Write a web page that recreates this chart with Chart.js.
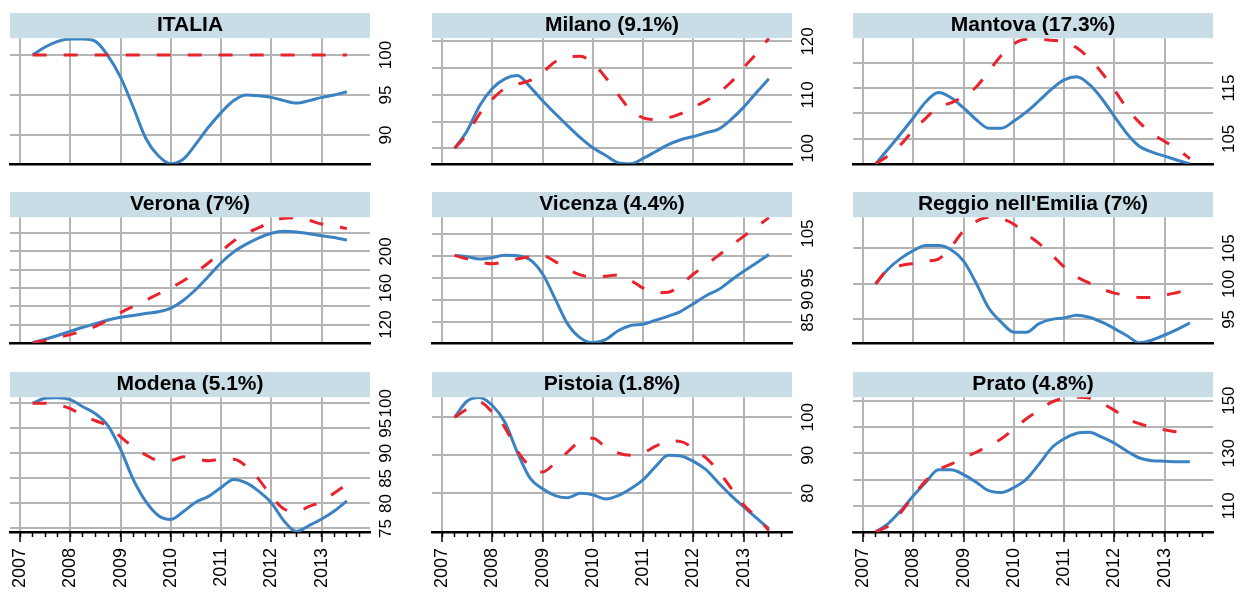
<!DOCTYPE html>
<html>
<head>
<meta charset="utf-8">
<script src="https://cdn.jsdelivr.net/npm/chart.js@4.4.1/dist/chart.umd.min.js"></script>
<style>
  html, body { margin: 0; padding: 0; background: #fff; overflow: hidden; }
  canvas { position: absolute; }
</style>
</head>
<body>
<canvas id="c0"></canvas><canvas id="c1"></canvas><canvas id="c2"></canvas>
<canvas id="c3"></canvas><canvas id="c4"></canvas><canvas id="c5"></canvas>
<canvas id="c6"></canvas><canvas id="c7"></canvas><canvas id="c8"></canvas>
<script>
// quarterly index, first quarter = 100
const quarters = [2007.25, 2007.5, 2007.75, 2008, 2008.25, 2008.5, 2008.75, 2009, 2009.25, 2009.5, 2009.75, 2010, 2010.25,
  2010.5, 2010.75, 2011, 2011.25, 2011.5, 2011.75, 2012, 2012.25, 2012.5, 2012.75, 2013, 2013.25, 2013.5];
const years = [2007, 2008, 2009, 2010, 2011, 2012, 2013];

const italiaBlue = [100.0, 101.0, 101.7, 102.0, 102.0, 101.7, 99.9, 97.2, 93.5, 89.6, 87.4, 86.4, 87.0, 88.9, 91.0, 92.8, 94.3, 95.0, 94.9, 94.7, 94.3, 94.0, 94.3, 94.7, 95.0, 95.4];
const italiaRed = [100, 100, 100, 100, 100, 100, 100, 100, 100, 100, 100, 100, 100, 100, 100, 100, 100, 100, 100, 100, 100, 100, 100, 100, 100, 100];
const italiaTicks = [90, 95, 100];
const italiaLabels = [90, 95, 100];

const milanoBlue = [100.0, 103.3, 108.0, 111.2, 113.0, 113.6, 111.5, 108.9, 106.5, 104.2, 102.0, 100.1, 98.7, 97.3, 97.1, 98.1, 99.4, 100.7, 101.6, 102.2, 102.9, 103.6, 105.4, 107.7, 110.4, 113.0];
const milanoRed = [100.0, 102.7, 106.5, 109.2, 111.2, 112.0, 112.7, 114.2, 116.2, 117.1, 117.2, 115.9, 113.3, 110.1, 107.1, 105.7, 105.4, 105.7, 106.5, 107.7, 108.9, 110.4, 112.4, 115.1, 117.7, 120.6];
const milanoTicks = [100, 105, 110, 115, 120];
const milanoLabels = [100, 110, 120];

const mantovaBlue = [100.1, 103.0, 106.0, 109.1, 112.3, 114.1, 113.1, 111.1, 108.8, 107.1, 107.1, 108.5, 110.3, 112.5, 114.8, 116.6, 117.2, 115.7, 112.9, 109.4, 106.0, 103.5, 102.4, 101.6, 100.8, 100.1];
const mantovaRed = [100.1, 101.7, 103.9, 106.7, 109.1, 111.3, 112.1, 113.4, 115.2, 118.3, 121.4, 123.7, 124.6, 124.6, 124.4, 124.1, 122.9, 120.8, 118.0, 114.6, 111.0, 108.2, 106.0, 104.5, 103.0, 101.1];
const mantovaTicks = [105, 110, 115, 120];
const mantovaLabels = [105, 115];

const veronaBlue = [100, 104, 108, 112.5, 117, 121, 125, 128, 130, 132, 134, 138, 146.6, 158.6, 172.9, 187.6, 199.5, 208, 215, 220, 222, 221.4, 219.3, 217.3, 215.2, 212.5];
const veronaRed = [100, 102.6, 105.7, 109, 113, 118, 125, 133, 139.8, 146.6, 153.4, 160.3, 168, 177.3, 187.6, 200, 211.5, 220, 226, 233, 236.4, 237, 234, 230, 228, 225];
const veronaTicks = [120, 140, 160, 180, 200, 220];
const veronaLabels = [120, 160, 200];

const vicenzaBlue = [100.1, 99.8, 99.3, 99.6, 100.1, 100.0, 99.1, 95.9, 90.3, 84.6, 81.5, 80.4, 81.1, 83.1, 84.3, 84.6, 85.5, 86.4, 87.5, 89.2, 91.0, 92.4, 94.5, 96.5, 98.4, 100.3];
const vicenzaRed = [100.1, 99.3, 98.6, 98.2, 98.7, 99.3, 99.8, 100.0, 98.7, 97.0, 95.7, 95.2, 95.4, 95.7, 94.5, 92.7, 91.7, 91.8, 93.5, 95.9, 98.0, 100.1, 102.3, 104.4, 106.5, 108.6];
const vicenzaTicks = [85, 90, 95, 100, 105];
const vicenzaLabels = [85, 90, 95, 105];

const reggioBlue = [100, 102.1, 103.6, 104.7, 105.4, 105.4, 104.8, 103.2, 100.1, 96.6, 94.6, 93.2, 93.2, 94.4, 95.0, 95.2, 95.6, 95.3, 94.6, 93.7, 92.7, 91.7, 92.1, 92.8, 93.6, 94.5];
const reggioRed = [100, 102.1, 102.6, 102.9, 103.2, 103.5, 105.2, 107.5, 108.8, 109.4, 109.2, 108.4, 107.0, 105.7, 104.1, 102.4, 101.0, 100.1, 99.3, 98.7, 98.4, 98.1, 98.1, 98.4, 98.8, 99.2];
const reggioTicks = [95, 100, 105];
const reggioLabels = [95, 100, 105];

const modenaBlue = [100, 101, 101.1, 100.7, 99.3, 97.9, 95.5, 90.8, 84.8, 80.4, 77.6, 76.8, 78.4, 80.3, 81.4, 83.2, 84.8, 84.1, 82.4, 80.1, 76.5, 74.4, 75.6, 76.9, 78.5, 80.5];
const modenaRed = [100, 100, 99.7, 98.9, 97.5, 96.5, 95.5, 93.3, 91.3, 89.7, 88.6, 88.6, 89.3, 88.9, 88.5, 88.8, 88.8, 87.4, 84.8, 81.4, 78.9, 78.4, 79.4, 80.4, 82.1, 83.8];
const modenaTicks = [75, 80, 85, 90, 95, 100];
const modenaLabels = [75, 80, 85, 90, 95, 100];

const pistoiaBlue = [100, 104.3, 105.2, 103.1, 98.7, 90.7, 84.0, 81.2, 79.4, 78.8, 80.0, 79.6, 78.5, 79.4, 81.2, 83.6, 87.1, 90.0, 89.8, 88.4, 86.2, 82.7, 79.4, 76.4, 73.5, 70.7];
const pistoiaRed = [100, 102.2, 104, 101.3, 97.3, 91.1, 87.1, 85.6, 88.0, 90.9, 93.8, 94.5, 92.2, 90.6, 90.0, 90.7, 92.4, 93.8, 93.6, 91.8, 89.3, 85.8, 81.3, 76.9, 73.8, 70.2];
const pistoiaTicks = [80, 90, 100];
const pistoiaLabels = [80, 90, 100];

const pratoBlue = [100.2, 103.3, 108.2, 113.9, 119.0, 123.7, 123.7, 121.9, 119.0, 115.8, 115.1, 117.0, 120.2, 125.9, 132.0, 135.5, 137.6, 138.0, 136.1, 133.8, 130.8, 128.2, 127.2, 127.0, 126.8, 126.8];
const pratoRed = [100.2, 102.4, 107.5, 113.9, 119.6, 123.7, 125.9, 128.2, 130.4, 132.9, 135.5, 139.3, 143.1, 146.3, 149.4, 151.0, 151.3, 151.0, 149.0, 146.3, 143.1, 141.2, 139.9, 138.9, 138.0, 137.0];
const pratoTicks = [110, 120, 130, 140, 150];
const pratoLabels = [110, 130, 150];

const panels = [
  { title: "ITALIA", blue: italiaBlue, red: italiaRed, ticks: italiaTicks, labels: italiaLabels, min: 86.4, max: 102.1 },
  { title: "Milano (9.1%)", blue: milanoBlue, red: milanoRed, ticks: milanoTicks, labels: milanoLabels, min: 97.1, max: 120.6 },
  { title: "Mantova (17.3%)", blue: mantovaBlue, red: mantovaRed, ticks: mantovaTicks, labels: mantovaLabels, min: 100.1, max: 124.8 },
  { title: "Verona (7%)", blue: veronaBlue, red: veronaRed, ticks: veronaTicks, labels: veronaLabels, min: 100, max: 237.5 },
  { title: "Vicenza (4.4%)", blue: vicenzaBlue, red: vicenzaRed, ticks: vicenzaTicks, labels: vicenzaLabels, min: 80.4, max: 108.7 },
  { title: "Reggio nell'Emilia (7%)", blue: reggioBlue, red: reggioRed, ticks: reggioTicks, labels: reggioLabels, min: 91.7, max: 109.4 },
  { title: "Modena (5.1%)", blue: modenaBlue, red: modenaRed, ticks: modenaTicks, labels: modenaLabels, min: 74.3, max: 101.2 },
  { title: "Pistoia (1.8%)", blue: pistoiaBlue, red: pistoiaRed, ticks: pistoiaTicks, labels: pistoiaLabels, min: 69.8, max: 105.3 },
  { title: "Prato (4.8%)", blue: pratoBlue, red: pratoRed, ticks: pratoTicks, labels: pratoLabels, min: 100.1, max: 151.3 },
];

const FONT = "'Liberation Sans', Arial, Helvetica, sans-serif";
const GRID = "#b4b4b4";

// light blue strip behind the title
const stripPlugin = {
  id: "strip",
  beforeDraw(chart) {
    const t = chart.titleBlock, a = chart.chartArea, ctx = chart.ctx;
    ctx.save();
    ctx.fillStyle = "#c9dde7";
    ctx.fillRect(a.left, t.top, a.right - a.left, t.height);
    ctx.restore();
  },
};

panels.forEach((p, i) => {
  const col = i % 3, row = Math.floor(i / 3);
  const bottomRow = row === 2;
  const cv = document.getElementById("c" + i);
  cv.width = 400;
  cv.height = bottomRow ? 220 : 163;
  cv.style.left = [0, 422, 843][col] + "px";
  cv.style.top = [13, 192, 372][row] + "px";

  const scales = {
    x: {
      type: "linear", min: 2006.8, max: 2013.96, weight: 1,
      afterBuildTicks: (s) => { s.ticks = years.map((v) => ({ value: v })); },
      afterFit: (s) => { s.height = bottomRow ? 60 : 0; },
      grid: { color: GRID, lineWidth: 2, drawTicks: bottomRow, tickLength: 10, tickColor: "#000", tickWidth: 1.5 },
      border: { display: true, color: "#000", width: 2.5 },
      ticks: {
        display: bottomRow, minRotation: 90, maxRotation: 90, padding: 6,
        color: "#000", font: { family: FONT, size: 18 },
        callback: (v) => String(v),
      },
    },
    y: {
      type: "linear", position: "right", min: p.min, max: p.max,
      afterBuildTicks: (s) => { s.ticks = p.ticks.map((v) => ({ value: v })); },
      afterFit: (s) => { s.width = 30; },
      grid: { color: GRID, lineWidth: 2, drawTicks: false },
      border: { display: false },
      ticks: {
        autoSkip: false, minRotation: 90, maxRotation: 90, crossAlign: "center", padding: 2,
        color: "#000", font: { family: FONT, size: 17 },
        callback: (v) => (p.labels.includes(v) ? String(v) : ""),
      },
    },
  };
  if (bottomRow) {
    // short quarterly tick marks under the axis
    scales.x2 = {
      type: "linear", position: "bottom", min: 2006.8, max: 2013.96, weight: 0,
      afterBuildTicks: (s) => { s.ticks = years.flatMap((y) => [y, y + 0.25, y + 0.5, y + 0.75]).map((v) => ({ value: v })); },
      afterFit: (s) => { s.height = 0; },
      grid: { drawOnChartArea: false, drawTicks: true, tickLength: 5, tickColor: "#000", tickWidth: 1.5 },
      border: { display: false },
      ticks: { display: false },
    };
  }

  new Chart(cv, {
    type: "line",
    data: {
      datasets: [
        {
          data: quarters.map((q, k) => ({ x: q, y: p.red[k] })),
          borderColor: "#e8232b", borderWidth: 3, borderDash: [14, 17],
          pointRadius: 0, cubicInterpolationMode: "monotone",
        },
        {
          data: quarters.map((q, k) => ({ x: q, y: p.blue[k] })),
          borderColor: "#3a82c2", borderWidth: 3,
          pointRadius: 0, cubicInterpolationMode: "monotone",
        },
      ],
    },
    options: {
      responsive: false,
      animation: false,
      events: [],
      layout: { padding: { left: 10, right: 0, top: 0, bottom: bottomRow ? 0 : 4 } },
      plugins: {
        legend: { display: false },
        tooltip: { enabled: false },
        title: {
          display: true, text: p.title, fullSize: false, color: "#000",
          font: { family: FONT, size: 21, weight: "bold" }, padding: { top: 0, bottom: 0 },
        },
      },
      scales,
    },
    plugins: [stripPlugin],
  });
});
</script>
</body>
</html>
